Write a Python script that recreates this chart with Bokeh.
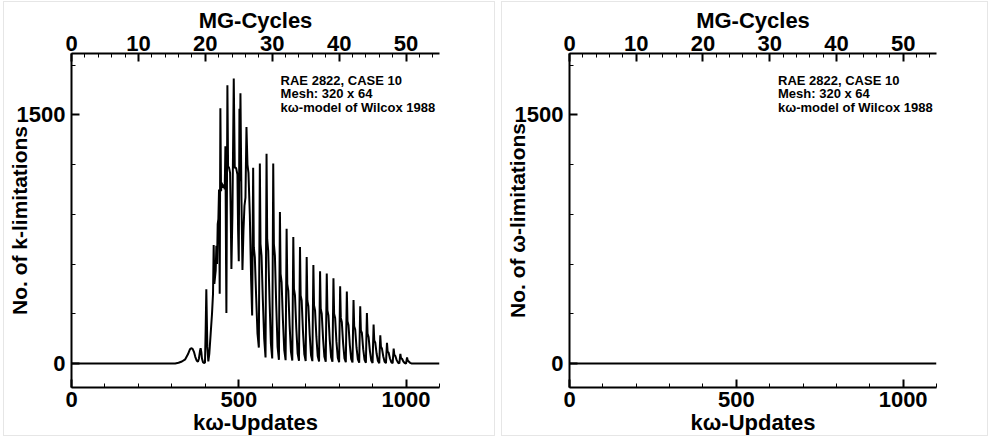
from bokeh.plotting import figure
from bokeh.models import Range1d, LinearAxis, FixedTicker, Label
from bokeh.layouts import row
from bokeh.embed import file_html
from bokeh.resources import INLINE

# ---------------- data ----------------
k_updates = [0, 310, 320, 330, 340, 348, 354, 358, 362, 366, 370, 374, 378, 381, 384, 386, 388, 390, 393, 396, 399,
             401, 403, 406, 409, 412, 416, 420, 423, 425, 427, 429, 431, 433, 435, 437, 439, 441, 443, 445, 447, 449,
             452, 455, 458, 460, 462, 463, 466, 468, 471, 474, 476, 478, 481, 485, 488, 492, 496, 498, 500, 502, 503,
             505, 508, 511, 514, 517, 520, 523, 526, 529, 533, 537,
             540, 543, 545, 548, 552, 556,
             560, 563, 565, 568, 572, 576,
             580, 583, 585, 588, 592, 596,
             600, 603, 605, 608, 612, 616,
             620, 623, 625, 628, 632, 636,
             640, 643, 645, 648, 652, 656,
             660, 663, 665, 668, 672, 676,
             680, 683, 685, 688, 692, 696,
             700, 703, 705, 708, 712, 716,
             720, 723, 725, 728, 732, 736,
             740, 743, 745, 748, 752, 756,
             760, 763, 765, 768, 772, 776,
             780, 783, 785, 788, 792, 796,
             800, 803, 805, 808, 812, 816,
             820, 823, 825, 828, 832, 836,
             840, 843, 845, 848, 852, 856,
             860, 863, 865, 868, 872, 876,
             880, 883, 885, 888, 892, 896,
             900, 903, 905, 908, 912, 916,
             920, 923, 925, 928, 932, 936,
             940, 943, 945, 948, 952, 956,
             960, 963, 965, 968, 972, 976,
             980, 983, 985, 988, 992, 996,
             1000, 1003, 1005, 1008, 1012, 1016, 1100]
k_limits = [0, 0, 4, 12, 25, 55, 85, 92, 88, 70, 40, 18, 10, 30, 75, 92, 70, 30, 8, 3, 5,
            200, 448, 100, 12, 60, 180, 300, 420, 715, 480, 520, 560, 710, 600, 840, 870, 1050, 420, 1540, 1040, 1090,
            1060, 1080, 1050, 1311, 600, 305, 1679, 1190, 1180, 1150, 900, 570, 900, 1719, 1180, 1180, 1140, 800, 617, 1536, 1100,
            1630, 1000, 564, 800, 950, 1000, 1427, 1200, 1150, 900, 500,
            289, 1181, 700, 640, 400, 180,
            96, 1207, 720, 650, 380, 150,
            36, 1265, 750, 680, 380, 120,
            30, 1207, 720, 650, 350, 100,
            22, 913, 540, 490, 260, 80,
            20, 813, 480, 440, 230, 70,
            18, 763, 450, 410, 210, 60,
            16, 703, 410, 380, 190, 55,
            15, 642, 380, 345, 175, 50,
            14, 594, 350, 320, 160, 45,
            12, 556, 330, 300, 150, 40,
            10, 542, 320, 290, 140, 38,
            10, 514, 300, 275, 130, 35,
            8, 466, 275, 250, 120, 30,
            8, 434, 255, 230, 110, 28,
            6, 383, 225, 205, 95, 25,
            5, 345, 200, 185, 85, 22,
            4, 305, 180, 160, 75, 18,
            3, 235, 140, 125, 60, 15,
            2, 170, 100, 90, 42, 10,
            2, 125, 72, 65, 30, 8,
            1, 90, 52, 45, 20, 5,
            0, 58, 32, 28, 12, 3,
            0, 36, 18, 12, 4, 0, 0]

w_updates = [0, 1100]
w_limits = [0, 0]

x_major = [0, 500, 1000]
x_minor = [0, 100, 200, 300, 400, 500, 600, 700, 800, 900, 1000, 1100]
mg_major = [0, 10, 20, 30, 40, 50]
mg_minor = [0, 2, 4, 6, 8, 10, 12, 14, 16, 18, 20, 22, 24, 26, 28, 30, 32, 34, 36, 38, 40, 42, 44, 46, 48, 50, 52, 54]
y_major = [0, 1500]
y_minor = [0, 300, 600, 900, 1200, 1500, 1800]

note_lines = ["RAE 2822, CASE 10", "Mesh: 320 x 64", "k\u03c9-model of Wilcox 1988"]
note_y = [1751, 1671, 1591]

FONT = "Liberation Sans"


def style_axis(ax, major, minor, label, size="22px", tick_size="22px"):
    ax.ticker = FixedTicker(ticks=major, minor_ticks=minor)
    ax.axis_label = label
    ax.axis_line_width = 2
    ax.axis_line_color = "black"
    ax.major_tick_line_width = 2
    ax.major_tick_line_color = "black"
    ax.major_tick_in = 8
    ax.major_tick_out = 0
    ax.minor_tick_in = 4
    ax.minor_tick_out = 0
    ax.minor_tick_line_width = 1
    ax.minor_tick_line_color = "black"
    ax.major_label_text_font = FONT
    ax.major_label_text_font_style = "bold"
    ax.major_label_text_font_size = tick_size
    ax.major_label_text_color = "black"
    ax.axis_label_text_font = FONT
    ax.axis_label_text_font_style = "bold"
    ax.axis_label_text_font_size = size
    ax.axis_label_text_color = "black"


def make_panel(xs, ys, ylabel, width, right_border):
    p = figure(width=width, height=435, output_backend="svg", toolbar_location=None,
               x_range=Range1d(0, 1100), y_range=Range1d(-145, 1870),
               x_axis_location=None, y_axis_location=None,
               min_border_left=66, min_border_right=right_border,
               min_border_top=51, min_border_bottom=47)
    p.extra_x_ranges = {"mg": Range1d(0, 55)}
    p.grid.visible = False
    p.outline_line_color = None
    p.background_fill_color = "white"
    p.border_fill_color = "white"

    bottom = LinearAxis()
    style_axis(bottom, x_major, x_minor, "k\u03c9-Updates")
    bottom.major_label_standoff = 4
    bottom.axis_label_standoff = 0
    p.add_layout(bottom, "below")

    top = LinearAxis(x_range_name="mg")
    style_axis(top, mg_major, mg_minor, "MG-Cycles")
    top.major_label_standoff = 3
    top.axis_label_standoff = 0
    p.add_layout(top, "above")

    left = LinearAxis()
    style_axis(left, y_major, y_minor, ylabel, size="21px")
    left.major_label_standoff = 6
    left.axis_label_standoff = -17
    p.add_layout(left, "left")

    p.line(xs, ys, line_width=2, line_color="black")

    for txt, yy in zip(note_lines, note_y):
        p.add_layout(Label(x=625, y=yy, text=txt, text_font=FONT, text_font_style="bold",
                           text_font_size="13px", text_baseline="top", text_color="black"))
    p.styles = {"border": "1px solid #e6e6e6"}
    return p


p1 = make_panel(k_updates, k_limits, "No. of k-limitations", 492, 57)
p1.margin = (1, 0, 0, 3)
p2 = make_panel(w_updates, w_limits, "No. of \u03c9-limitations", 487, 53)
p2.margin = (1, 0, 0, 6)

layout = row(p1, p2)
open("out.html", "w").write(file_html(layout, INLINE))
